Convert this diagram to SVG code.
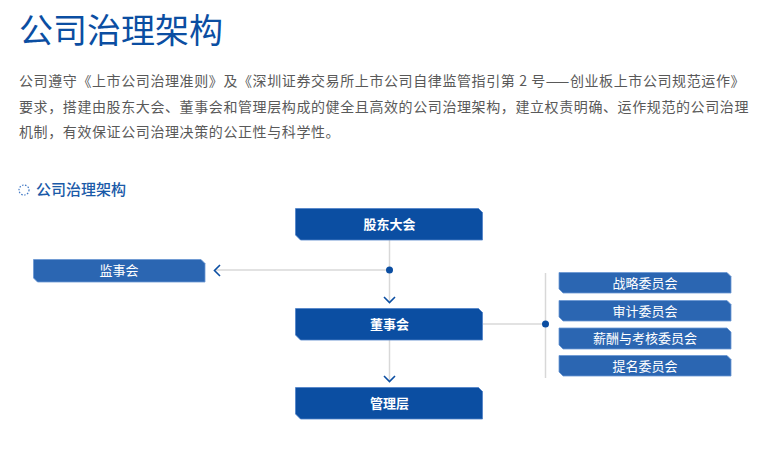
<svg xmlns="http://www.w3.org/2000/svg" width="778" height="463" viewBox="0 0 778 463">
<style>
text{font-family:"Noto Sans CJK SC","Noto Sans",sans-serif}
.title{font-size:34px;fill:#0b4ea2}
.body{font-size:14px;fill:#595959;letter-spacing:0.6px}
.sub{font-size:15px;fill:#1a5aa8;font-weight:500}
.dark{fill:#0b4ea2;stroke:#4f82c8;stroke-width:0.8}
.light{fill:#2b66b2;stroke:#6a97d3;stroke-width:0.8}
.bt{font-size:13px;fill:#fff;font-weight:700;text-anchor:middle}
.lt{font-size:13px;fill:#fff;text-anchor:middle}
.ln{stroke:#d8d8d8;stroke-width:1.5;fill:none}
.chev{stroke:#0b4ea2;stroke-width:1.6;fill:none}
.dot{fill:#0b4ea2}
</style>
<rect width="778" height="463" fill="#fff"/>
<text class="title" x="19" y="43">公司治理架构</text>
<text class="body" x="19" y="86">公司遵守《上市公司治理准则》及《深圳证券交易所上市公司自律监管指引第 2 号——创业板上市公司规范运作》</text>
<text class="body" x="19" y="112">要求，搭建由股东大会、董事会和管理层构成的健全且高效的公司治理架构，建立权责明确、运作规范的公司治理</text>
<text class="body" x="19" y="137">机制，有效保证公司治理决策的公正性与科学性。</text>
<circle cx="24" cy="190" r="5" fill="none" stroke="#3f77c4" stroke-width="1.2" stroke-dasharray="1.5 1.5"/>
<text class="sub" x="36" y="195">公司治理架构</text>
<g id="connectors">
<path class="ln" d="M389.5 240V301"/>
<path class="ln" d="M389.5 270H215"/>
<path class="ln" d="M389.5 340V381"/>
<path class="ln" d="M483 324H545.5"/>
<path class="ln" d="M545.5 273V378"/>
<circle class="dot" cx="389.5" cy="270" r="3.5"/>
<circle class="dot" cx="545.5" cy="324" r="3.5"/>
<path class="chev" d="M384 297L389.5 302.5L395 297"/>
<path class="chev" d="M384 376L389.5 381.5L395 376"/>
<path class="chev" d="M220 265L214.5 270.5L220 276"/>
</g>
<g id="gudong">
<path class="dark" d="M295.5 208.5H478.5L482.5 212.5V240H300.5L295.5 235Z"/>
<text class="bt" x="389.5" y="229">股东大会</text>
</g>
<g id="dongshi">
<path class="dark" d="M295.5 308.5H478.5L482.5 312.5V340H300.5L295.5 335Z"/>
<text class="bt" x="389.5" y="329">董事会</text>
</g>
<g id="guanli">
<path class="dark" d="M295.5 387.5H478.5L482.5 391.5V419H300.5L295.5 414Z"/>
<text class="bt" x="389.5" y="408">管理层</text>
</g>
<g id="jianshi">
<path class="light" d="M33.5 259.5H201L205 263.5V282H37.5L33.5 278Z"/>
<text class="lt" x="119" y="275">监事会</text>
</g>
<g id="zhanlue">
<path class="light" d="M559 272.5H727L731 276.5V293H563L559 289Z"/>
<text class="lt" x="645" y="287.5">战略委员会</text>
</g>
<g id="shenji">
<path class="light" d="M559 300.5H727L731 304.5V321H563L559 317Z"/>
<text class="lt" x="645" y="315.5">审计委员会</text>
</g>
<g id="xinchou">
<path class="light" d="M559 328H727L731 332V349H563L559 345Z"/>
<text class="lt" x="645" y="343">薪酬与考核委员会</text>
</g>
<g id="timing">
<path class="light" d="M559 355.5H727L731 359.5V376H563L559 372Z"/>
<text class="lt" x="645" y="370.5">提名委员会</text>
</g>
</svg>
